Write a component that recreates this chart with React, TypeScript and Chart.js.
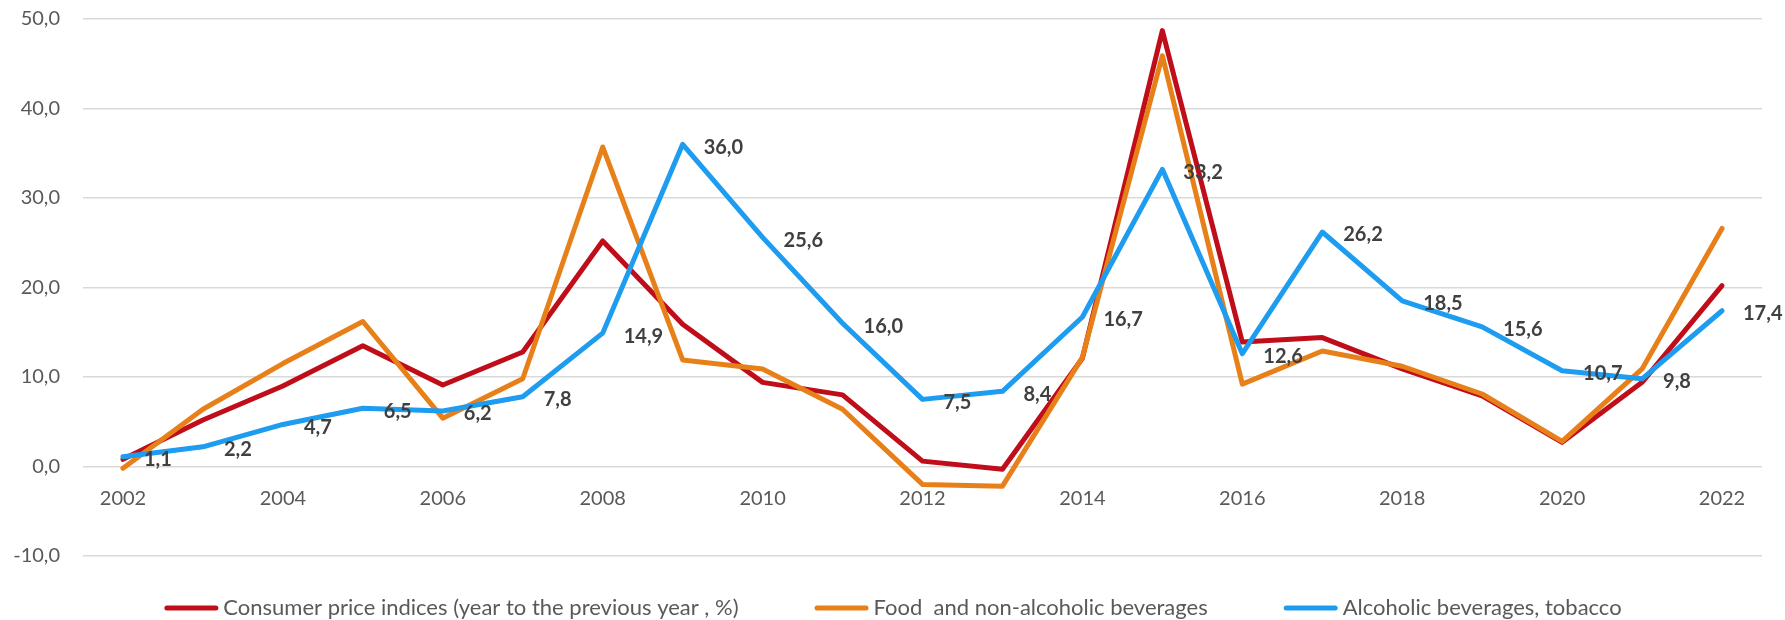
import React, { useEffect, useRef } from "react";
import { Chart, registerables } from "chart.js";

Chart.register(...registerables);

const years = [
  "2002", "2003", "2004", "2005", "2006", "2007", "2008", "2009", "2010", "2011",
  "2012", "2013", "2014", "2015", "2016", "2017", "2018", "2019", "2020", "2021", "2022",
];

const cpi = [0.8, 5.2, 9.0, 13.5, 9.1, 12.8, 25.2, 15.9, 9.4, 8.0, 0.6, -0.3, 12.1, 48.7, 13.9, 14.4, 10.9, 7.9, 2.7, 9.4, 20.2];
const food = [-0.2, 6.4, 11.5, 16.2, 5.4, 9.8, 35.7, 11.9, 10.9, 6.4, -2.0, -2.2, 12.2, 45.9, 9.2, 12.9, 11.2, 8.1, 2.8, 10.9, 26.6];
const alcohol = [1.1, 2.2, 4.7, 6.5, 6.2, 7.8, 14.9, 36.0, 25.6, 16.0, 7.5, 8.4, 16.7, 33.2, 12.6, 26.2, 18.5, 15.6, 10.7, 9.8, 17.4];

const seriesNames = [
  "Consumer price indices (year to the previous year , %)",
  "Food  and non-alcoholic beverages",
  "Alcoholic beverages, tobacco",
];
const seriesColors = ["#C00D1A", "#E8801A", "#1E9CF0"];

const yTicks = { min: -10, max: 50, step: 10 };

const FONT = "Lato, 'Open Sans', sans-serif";
const fmt = (v: number) => v.toFixed(1).replace(".", ",");

const labelPlugin = {
  id: "blueLabels",
  afterDatasetsDraw(chart: any) {
    const ctx = chart.ctx;
    const meta = chart.getDatasetMeta(2);
    ctx.save();
    ctx.font = `bold 20px ${FONT}`;
    ctx.fillStyle = "#404040";
    ctx.textAlign = "left";
    ctx.textBaseline = "middle";
    meta.data.forEach((pt: any, i: number) => {
      ctx.fillText(fmt(alcohol[i]), pt.x + 21, pt.y + 3);
    });
    ctx.restore();
  },
};

const legendPlugin = {
  id: "customLegend",
  afterDraw(chart: any) {
    const ctx = chart.ctx;
    ctx.save();
    ctx.font = `22px ${FONT}`;
    const lineW = 54;
    const textGap = 5;
    const itemGap = 76;
    const widths = seriesNames.map((n) => lineW + textGap + ctx.measureText(n).width);
    const total = widths.reduce((a, b) => a + b, 0) + itemGap * (widths.length - 1);
    let x = 893 - total / 2;
    const y = 608;
    seriesNames.forEach((name, i) => {
      ctx.strokeStyle = seriesColors[i];
      ctx.lineWidth = 5;
      ctx.lineCap = "round";
      ctx.beginPath();
      ctx.moveTo(x + 2.5, y);
      ctx.lineTo(x + lineW - 2.5, y);
      ctx.stroke();
      ctx.fillStyle = "#595959";
      ctx.textAlign = "left";
      ctx.textBaseline = "middle";
      ctx.fillText(name, x + lineW + textGap, y);
      x += widths[i] + itemGap;
    });
    ctx.restore();
  },
};

export default function App() {
  const ref = useRef<HTMLCanvasElement>(null);
  useEffect(() => {
    if (!ref.current) return;
    const mk = (i: number, data: number[], order: number) => ({
      label: seriesNames[i],
      data,
      borderColor: seriesColors[i],
      backgroundColor: seriesColors[i],
      borderWidth: 5,
      pointRadius: 0,
      tension: 0,
      borderCapStyle: "round" as const,
      borderJoinStyle: "round" as const,
      order,
    });
    const chart = new Chart(ref.current, {
      type: "line",
      data: {
        labels: years,
        datasets: [mk(0, cpi, 2), mk(1, food, 1), mk(2, alcohol, 0)],
      },
      options: {
        animation: false,
        responsive: true,
        maintainAspectRatio: false,
        layout: { padding: { left: 0, right: 23, top: 19, bottom: 64 } },
        plugins: { legend: { display: false }, tooltip: { enabled: false } },
        scales: {
          x: {
            type: "category",
            offset: true,
            position: { y: 0 } as any,
            grid: { display: false, drawTicks: false },
            border: { display: false },
            ticks: {
              autoSkip: false,
              maxRotation: 0,
              padding: 20,
              color: "#595959",
              font: { family: FONT, size: 20 },
              callback: (_v: any, i: number) => (i % 2 === 0 ? years[i] : ""),
            },
          },
          y: {
            min: yTicks.min,
            max: yTicks.max,
            grid: { color: "#D9D9D9", lineWidth: 1.5, drawTicks: false },
            border: { display: false },
            ticks: {
              stepSize: yTicks.step,
              padding: 23,
              color: "#595959",
              font: { family: FONT, size: 20 },
              callback: (v: any) => fmt(Number(v)),
            },
            afterFit: (s: any) => {
              s.width = 83;
              s.paddingTop = 0;
              s.paddingBottom = 0;
            },
          },
        },
      },
      plugins: [labelPlugin, legendPlugin],
    });
    return () => chart.destroy();
  }, []);
  return (
    <div style={{ position: "absolute", left: 0, top: 0, width: 1785, height: 620, background: "#fff" }}>
      <canvas ref={ref} />
    </div>
  );
}
